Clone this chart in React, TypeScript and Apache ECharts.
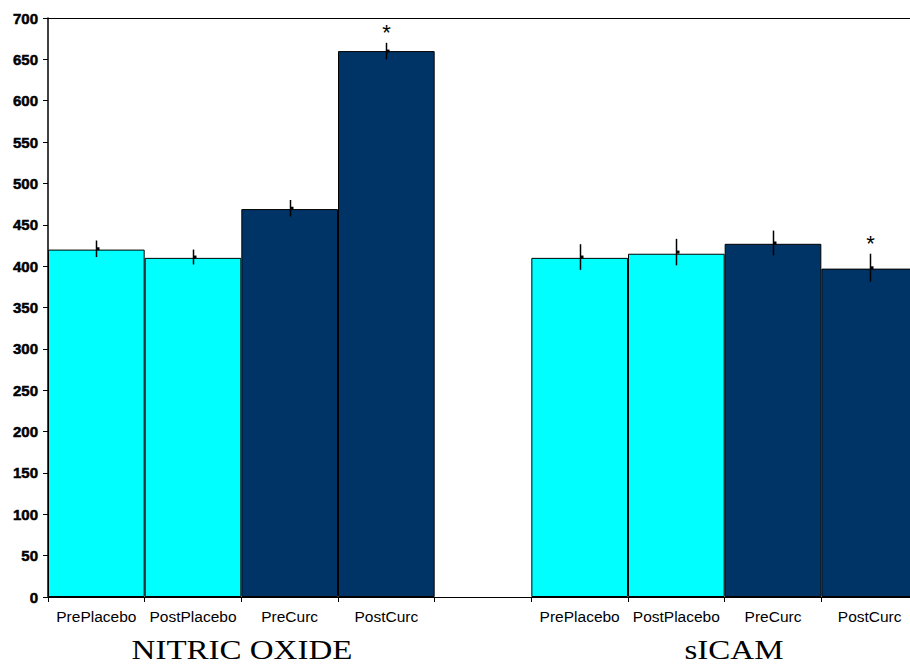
import React, { useEffect, useRef } from "react";
import * as echarts from "echarts";

const categories = ["PrePlacebo", "PostPlacebo", "PreCurc", "PostCurc", "", "PrePlacebo", "PostPlacebo", "PreCurc", "PostCurc"];
const values: (number | null)[] = [420, 410, 469, 660, null, 410, 415, 427, 397];
const colorsByBar = ["#00FFFF", "#00FFFF", "#003366", "#003366", "", "#00FFFF", "#00FFFF", "#003366", "#003366"];
const errMeans: (number | null)[] = [421, 411, 470, 660, null, 411, 417, 428, 398];
const errSizes: (number | null)[] = [10, 9, 10, 10, null, 15.5, 16, 15, 17];
const significant = [false, false, false, true, false, false, false, false, true];
const groupLabels = ["NITRIC OXIDE", "sICAM"];
const yTicks = { min: 0, max: 700, interval: 50 };

export default function App() {
  const ref = useRef<HTMLDivElement>(null);
  useEffect(() => {
    if (!ref.current) return;
    const chart = echarts.init(ref.current, null, { renderer: "svg" });
    const barData = values.map((v, i) =>
      v == null ? "-" : { value: v, itemStyle: { color: colorsByBar[i], borderColor: "#000", borderWidth: 1 } }
    );
    const errData: any[] = [];
    errMeans.forEach((m, i) => {
      if (m == null) return;
      const e = errSizes[i] as number;
      errData.push([i, m - e, m + e, m, significant[i] ? 1 : 0]);
    });
    chart.setOption({
      animation: false,
      grid: { left: 48, right: 0, top: 18, bottom: 69 },
      xAxis: [
        {
          type: "category",
          data: categories,
          boundaryGap: true,
          axisLine: { lineStyle: { color: "#000", width: 1 } },
          axisTick: { show: true, length: 5, lineStyle: { color: "#000" } },
          axisLabel: { color: "#000", fontFamily: "Arial", fontSize: 15.5, margin: 11, interval: 0 },
        },
        {
          type: "category",
          data: categories,
          position: "top",
          axisLine: { lineStyle: { color: "#000", width: 1 } },
          axisTick: { show: false },
          axisLabel: { show: false },
        },
      ],
      yAxis: {
        type: "value",
        min: yTicks.min,
        max: yTicks.max,
        interval: yTicks.interval,
        axisLine: { show: true, lineStyle: { color: "#000", width: 1.5 } },
        axisTick: { show: true, length: 5, lineStyle: { color: "#000" } },
        splitLine: { show: false },
        axisLabel: {
          color: "#000",
          fontFamily: "Arial",
          fontSize: 15,
          fontWeight: "bold",
          textBorderColor: "#000",
          textBorderWidth: 0.5,
          margin: 10,
        },
      },
      series: [
        {
          type: "bar",
          data: barData,
          barWidth: "100%",
          barCategoryGap: 0,
        },
        {
          type: "custom",
          data: errData,
          z: 10,
          renderItem: (params: any, api: any) => {
            const x = api.value(0);
            const lo = api.coord([x, api.value(1)]);
            const hi = api.coord([x, api.value(2)]);
            const mid = api.coord([x, api.value(3)]);
            const cx = Math.round(lo[0]) + 0.5;
            const children: any[] = [
              { type: "line", shape: { x1: cx, y1: lo[1], x2: cx, y2: hi[1] }, style: { stroke: "#000", lineWidth: 1.5 } },
              { type: "rect", shape: { x: cx, y: mid[1] - 1.5, width: 3, height: 3 }, style: { fill: "#000" } },
            ];
            if (api.value(4) === 1) {
              children.push({
                type: "text",
                style: {
                  text: "*",
                  x: cx,
                  y: hi[1] + 1,
                  align: "center",
                  verticalAlign: "bottom",
                  fontSize: 22,
                  fontFamily: "Arial",
                  fill: "#000",
                },
              });
            }
            return { type: "group", children };
          },
        },
      ],
      graphic: [
        {
          type: "text",
          x: 242,
          y: 649.5,
          scaleX: 1.2,
          style: { text: groupLabels[0], fontFamily: "Liberation Serif", fontSize: 27.5, fill: "#000", align: "center", verticalAlign: "middle" },
        },
        {
          type: "text",
          x: 734,
          y: 649.5,
          scaleX: 1.2,
          style: { text: groupLabels[1], fontFamily: "Liberation Serif", fontSize: 27.5, fill: "#000", align: "center", verticalAlign: "middle" },
        },
      ],
    });
    return () => chart.dispose();
  }, []);
  return (
    <div style={{ position: "absolute", left: 0, top: 0, width: 910, height: 666, overflow: "hidden" }}>
      <div ref={ref} style={{ width: 918, height: 666 }} />
    </div>
  );
}
